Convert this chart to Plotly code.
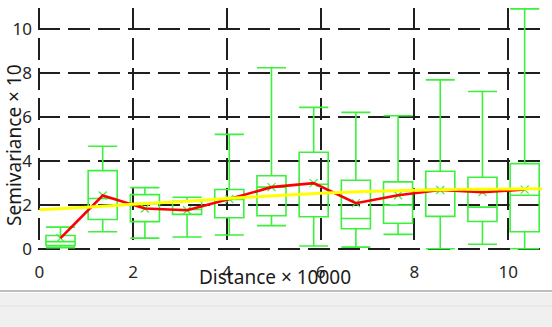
import plotly.graph_objects as go

# ---- data ----
bin_centers = [0.45, 1.35, 2.25, 3.15, 4.05, 4.95, 5.85, 6.75, 7.65, 8.55, 9.45, 10.35]
upper_whisker = [0.98, 4.66, 2.78, 2.34, 5.20, 8.23, 6.43, 6.20, 6.05, 7.68, 7.15, 10.91]
q3_values = [0.60, 3.55, 2.46, 2.16, 2.69, 3.32, 4.39, 3.11, 3.04, 3.52, 3.25, 3.87]
median_values = [0.32, 2.28, 2.05, 1.78, 2.24, 2.80, 2.93, 1.37, 1.98, 2.70, 1.89, 2.43]
q1_values = [0.14, 1.33, 1.23, 1.56, 1.41, 1.50, 1.45, 0.91, 1.16, 1.47, 1.24, 0.77]
lower_whisker = [0.05, 0.77, 0.48, 0.53, 0.62, 1.05, 0.12, 0.07, 0.65, 0.00, 0.20, 0.00]
mean_values = [0.48, 2.42, 1.83, 1.75, 2.26, 2.80, 2.98, 2.07, 2.43, 2.67, 2.57, 2.69]

model_x = [0, 1, 2, 3, 4, 5, 6, 7, 8, 9, 10, 10.72]
model_y = [1.77, 1.89, 2.02, 2.14, 2.28, 2.41, 2.52, 2.60, 2.66, 2.70, 2.72, 2.73]

x_ticks = [0, 2, 4, 6, 8, 10]
y_ticks = [0, 2, 4, 6, 8, 10]
x_title = "Distance × 10000"
y_title = "Semivariance × 10"

# ---- layout geometry (pixels) ----
W, H = 552, 327
ML, MR, MT, MB = 38, 10, 8, 77
PW, PH = W - ML - MR, H - MT - MB


def px_x(p):
    return (p - ML) / PW


def px_y(p):
    return (H - MB - p) / PH


GREEN = "#3cf03c"

fig = go.Figure()

fig.add_trace(go.Box(
    x=bin_centers,
    q1=q1_values, median=median_values, q3=q3_values,
    lowerfence=lower_whisker, upperfence=upper_whisker,
    width=0.62, whiskerwidth=1,
    line=dict(color=GREEN, width=1.6),
    fillcolor="rgba(0,0,0,0)",
    boxpoints=False,
    showlegend=False,
    hoverinfo="skip",
))

fig.add_trace(go.Scatter(
    x=bin_centers, y=mean_values, mode="markers",
    marker=dict(symbol="x-thin", size=8, line=dict(color=GREEN, width=1.2)),
    showlegend=False, hoverinfo="skip",
))

fig.add_trace(go.Scatter(
    x=bin_centers, y=mean_values, mode="lines",
    line=dict(color="#ff0000", width=2.6),
    showlegend=False, hoverinfo="skip",
))

fig.add_trace(go.Scatter(
    x=model_x, y=model_y, mode="lines",
    line=dict(color="#ffff00", width=3, shape="spline"),
    showlegend=False, hoverinfo="skip",
))

grid_common = dict(
    showgrid=True, gridcolor="#1f1f1f", gridwidth=1.8, griddash="22px,8px",
    zeroline=False, showline=False, ticks="",
    tickfont=dict(family="Noto Sans", size=17, color="#262626"),
)

fig.update_xaxes(range=[-0.03, 10.72], tickmode="array", tickvals=x_ticks,
                 ticktext=[str(v) for v in x_ticks], ticklabelstandoff=10,
                 **grid_common)
fig.update_yaxes(range=[-0.06, 10.95], tickmode="array", tickvals=y_ticks,
                 ticktext=[str(v) for v in y_ticks], ticklabelstandoff=5,
                 **grid_common)

shapes = [
    dict(type="rect", xref="paper", yref="paper",
         x0=px_x(0), x1=px_x(W), y0=px_y(H + 2), y1=px_y(293),
         fillcolor="#f0f0f0", line=dict(width=0), layer="below"),
    dict(type="line", xref="paper", yref="paper",
         x0=px_x(0), x1=px_x(W), y0=px_y(291), y1=px_y(291),
         line=dict(color="#a9a9a9", width=1.5)),
    dict(type="line", xref="paper", yref="paper",
         x0=px_x(0), x1=px_x(W), y0=px_y(306), y1=px_y(306),
         line=dict(color="#e2e2e2", width=1)),
]

annotations = [
    dict(text=x_title, xref="paper", yref="paper", x=px_x(275), y=px_y(277),
         xanchor="center", yanchor="middle", showarrow=False,
         font=dict(family="Noto Sans", size=19, color="#1a1a1a")),
    dict(text=y_title, xref="paper", yref="paper", x=px_x(14), y=px_y(145),
         xanchor="center", yanchor="middle", showarrow=False, textangle=-90,
         font=dict(family="Noto Sans", size=19, color="#1a1a1a")),
]

fig.update_layout(
    width=W, height=H,
    margin=dict(l=ML, r=MR, t=MT, b=MB, pad=0),
    paper_bgcolor="white", plot_bgcolor="white",
    shapes=shapes, annotations=annotations,
    showlegend=False,
)

fig.write_html("out.html")
